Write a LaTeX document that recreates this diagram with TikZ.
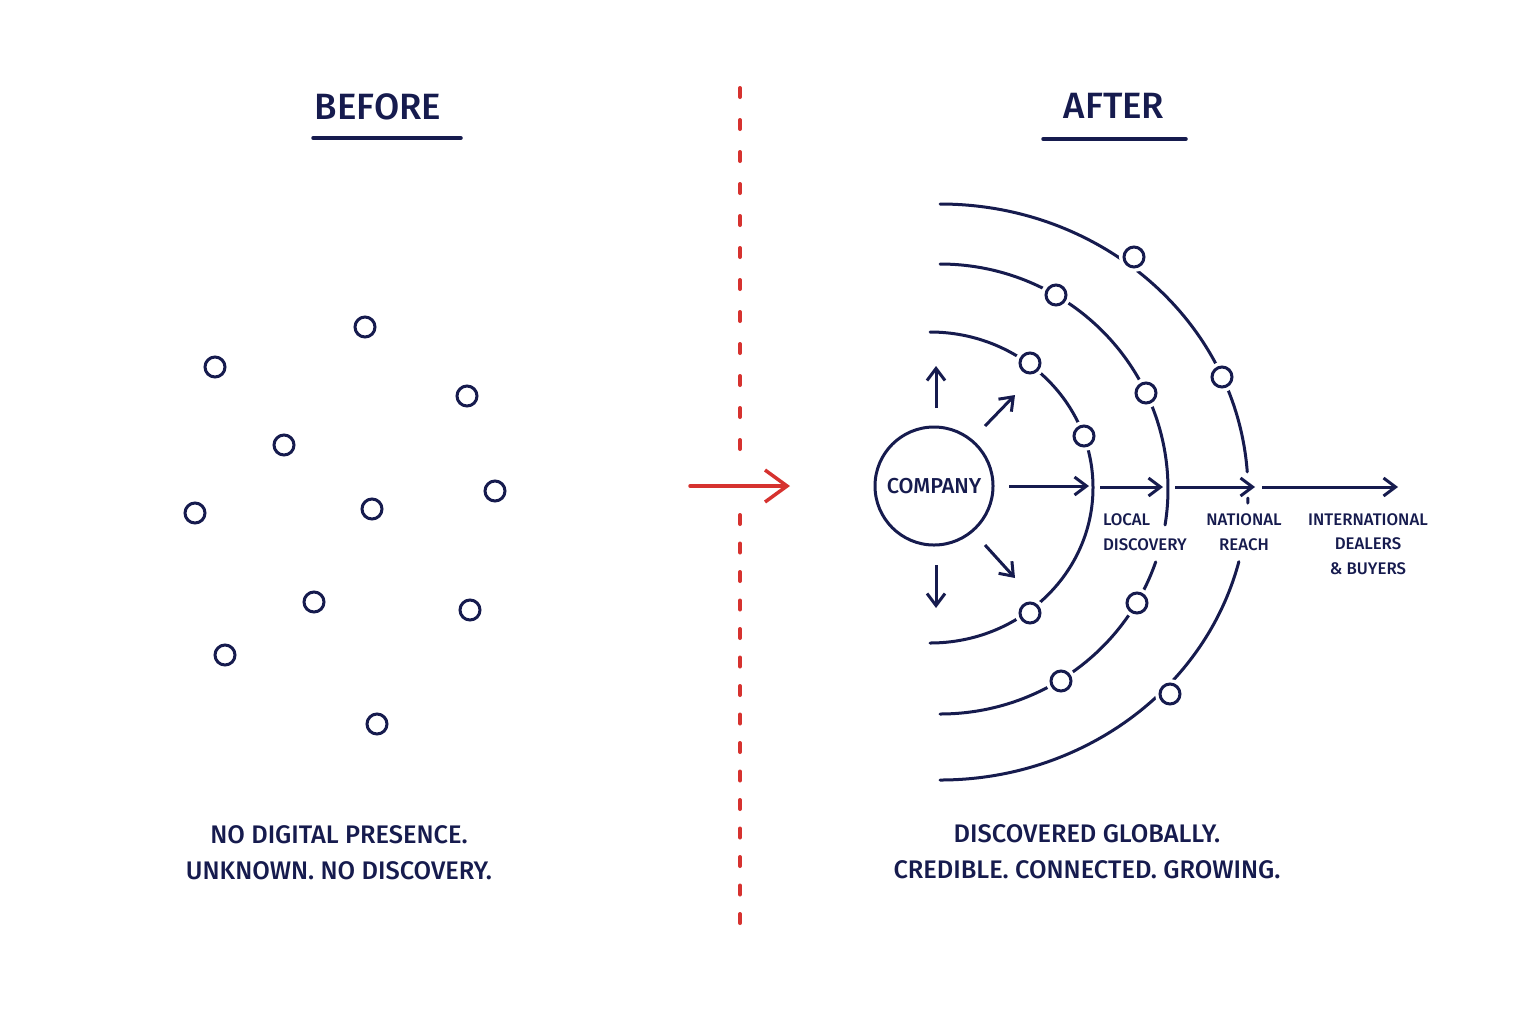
\documentclass[tikz,border=0pt]{standalone}
\usepackage{fontspec}
\setmainfont{Fira Sans Medium}
\usetikzlibrary{arrows.meta}
\definecolor{navy}{HTML}{161B4E}
\definecolor{redline}{HTML}{D6322F}
\begin{document}
\begin{tikzpicture}[x=0.5pt,y=-0.5pt,inner sep=0pt,outer sep=0pt,line width=1.5pt,color=navy,
title/.style={font=\fontsize{18.3}{22}\selectfont},
caption/.style={align=center,font=\fontsize{12.7}{18}\selectfont},
tag/.style={font=\fontsize{8.4}{12.2}\selectfont},
dot/.style={draw,circle,minimum size=10pt,fill=white,preaction={draw=white,line width=5pt}},
arr/.style={-{Straight Barb[length=6pt,width=9pt]}},
ring/.style={line cap=round}]
\useasboundingbox[fill=white] (0,0) rectangle (1536,1024);
% headings
\draw (378,107) node[title] (before) {BEFORE};
\draw[line width=1.75pt,line cap=round] (313,138) -- (461,138);
\draw (1114,106) node[title] (after) {AFTER};
\draw[line width=1.75pt,line cap=round] (1043,139) -- (1186,139);
% divider and transition arrow
\coordinate (dtop) at (740,88);
\coordinate (dgapa) at (740,456);
\coordinate (dgapb) at (740,515);
\coordinate (dbot) at (740,927);
\draw[redline,line width=2pt,dash pattern=on 4.5pt off 11.5pt,line cap=round] (dtop) -- (dgapa);
\draw[redline,line width=2pt,dash pattern=on 4.5pt off 9.75pt,line cap=round] (dgapb) -- (dbot);
\coordinate (reda) at (690,486);
\coordinate (redb) at (790,486);
\draw[redline,line width=1.75pt,line cap=round,-{Straight Barb[length=11pt,width=16pt]}] (reda) -- (redb);
% scattered, unconnected dots
\draw (365,327) node[dot] (b1) {};
\draw (215,367) node[dot] (b2) {};
\draw (467,396) node[dot] (b3) {};
\draw (284,445) node[dot] (b4) {};
\draw (195,513) node[dot] (b5) {};
\draw (372,509) node[dot] (b6) {};
\draw (495,491) node[dot] (b7) {};
\draw (314,602) node[dot] (b8) {};
\draw (470,610) node[dot] (b9) {};
\draw (225,655) node[dot] (b10) {};
\draw (377,724) node[dot] (b11) {};
% rings of reach
\coordinate (c1) at (930,487.5);
\coordinate (c2) at (940,489);
\coordinate (c3) at (940,492);
\draw[ring] (c1) ++(-90:163 and 155.5) arc[start angle=-90,end angle=90,x radius=163,y radius=155.5];
\draw[ring] (c2) ++(-90:228 and 225) arc[start angle=-90,end angle=9.2,x radius=228,y radius=225];
\draw[ring] (c2) ++(18.9:228 and 225) arc[start angle=18.9,end angle=90,x radius=228,y radius=225];
\draw[ring] (c3) ++(-90:308 and 288) arc[start angle=-90,end angle=-4,x radius=308,y radius=288];
\draw[ring] (c3) ++(1.2:308 and 288) arc[start angle=1.2,end angle=2.2,x radius=308,y radius=288];
\draw[ring] (c3) ++(14:308 and 288) arc[start angle=14,end angle=90,x radius=308,y radius=288];
% contacts on the rings
\draw (1030,363) node[dot] (l1) {};
\draw (1084,436) node[dot] (l2) {};
\draw (1030,613) node[dot] (l3) {};
\draw (1056,295) node[dot] (n1) {};
\draw (1146,393) node[dot] (n2) {};
\draw (1137,603) node[dot] (n3) {};
\draw (1061,681) node[dot] (n4) {};
\draw (1134,257) node[dot] (g1) {};
\draw (1222,377) node[dot] (g2) {};
\draw (1170,694) node[dot] (g3) {};
% company and its outgoing arrows
\draw (934,486) node[draw,circle,minimum size=59pt,font=\fontsize{10.8}{12}\selectfont] (comp) {COMPANY};
\draw[arr] (comp.center) ++(2,-78) -- ++(0,-42);
\draw[arr] (comp.center) ++(51,-60) -- ++(30,-31);
\draw[arr] (comp.center) ++(51,59) -- ++(30,33);
\draw[arr] (comp.center) ++(2,79) -- ++(0,43);
\draw[arr] ([xshift=8pt]comp.east) -- ++(80,0);
\coordinate (s2) at (1100,487);
\coordinate (t2) at (1163,487);
\coordinate (s3) at (1175,487);
\coordinate (t3) at (1255,487);
\coordinate (s4) at (1262,487);
\coordinate (t4) at (1398,487);
\draw[arr] (s2) -- (t2);
\draw[arr] (s3) -- (t3);
\draw[arr] (s4) -- (t4);
% stage labels
\draw (1103,532) node[tag,anchor=west,align=left] (local) {LOCAL\\DISCOVERY};
\draw (1244,532) node[tag,align=center] (national) {NATIONAL\\REACH};
\draw (1368,544) node[tag,align=center] (intl) {INTERNATIONAL\\DEALERS\\\& BUYERS};
% captions
\draw (339,853) node[caption] (nodigital) {NO DIGITAL PRESENCE.\\UNKNOWN. NO DISCOVERY.};
\draw (1087,852) node[caption] (global) {DISCOVERED GLOBALLY.\\CREDIBLE. CONNECTED. GROWING.};
\end{tikzpicture}
\end{document}
